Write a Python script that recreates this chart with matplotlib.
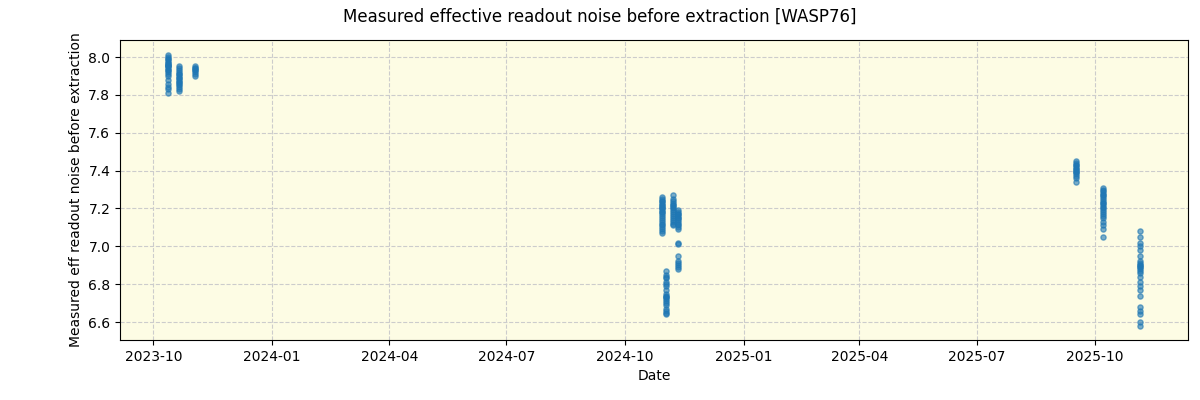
from matplotlib import pyplot as plt
import matplotlib.dates as mdates
import numpy as np
import pandas as pd

night_dates = ['2023-10-12', '2023-10-21', '2023-11-02',
               '2024-10-30', '2024-11-02', '2024-11-07', '2024-11-11',
               '2025-09-16', '2025-10-07', '2025-11-05']

noise_values = [
    [8.01, 8.00, 7.99, 7.98, 7.97, 7.96, 7.95, 7.94, 7.93, 7.92, 7.91, 7.90, 7.88, 7.86, 7.84, 7.83, 7.81,
     7.97, 7.95, 7.93, 7.99, 7.96],
    [7.95, 7.94, 7.93, 7.92, 7.91, 7.90, 7.89, 7.88, 7.87, 7.86, 7.85, 7.84, 7.83, 7.82, 7.91, 7.89, 7.87],
    [7.95, 7.94, 7.93, 7.92, 7.91, 7.90, 7.94, 7.93],
    [7.26, 7.25, 7.24, 7.23, 7.22, 7.21, 7.20, 7.19, 7.18, 7.17, 7.16, 7.15, 7.14, 7.13, 7.12, 7.11, 7.10,
     7.09, 7.08, 7.07, 7.24, 7.22, 7.20, 7.18],
    [6.87, 6.85, 6.83, 6.81, 6.79, 6.77, 6.75, 6.74, 6.73, 6.72, 6.71, 6.70, 6.69, 6.67, 6.66, 6.65, 6.64,
     6.84, 6.80, 6.73],
    [7.27, 7.25, 7.24, 7.23, 7.22, 7.21, 7.20, 7.19, 7.18, 7.17, 7.16, 7.15, 7.14, 7.13, 7.12, 7.11, 7.22],
    [7.19, 7.18, 7.17, 7.16, 7.15, 7.14, 7.13, 7.12, 7.11, 7.10, 7.09, 7.02, 7.01, 6.95, 6.92, 6.91, 6.90,
     6.89, 6.88, 7.17, 7.15],
    [7.45, 7.44, 7.43, 7.42, 7.41, 7.40, 7.39, 7.38, 7.37, 7.36, 7.34, 7.43, 7.41, 7.39],
    [7.31, 7.30, 7.29, 7.28, 7.27, 7.26, 7.25, 7.24, 7.23, 7.22, 7.21, 7.20, 7.19, 7.18, 7.17, 7.16, 7.15,
     7.13, 7.11, 7.09, 7.05, 7.27, 7.23],
    [7.08, 7.05, 7.02, 7.00, 6.98, 6.95, 6.92, 6.91, 6.90, 6.89, 6.88, 6.87, 6.86, 6.84, 6.81, 6.79, 6.77,
     6.74, 6.68, 6.66, 6.64, 6.60, 6.58, 6.90, 6.89],
]

# expand to one row per point
dates = []
values = []
for night, vals in zip(night_dates, noise_values):
    dates += [pd.Timestamp(night)] * len(vals)
    values += vals

fig, ax = plt.subplots(figsize=(12, 4), dpi=100)
fig.subplots_adjust(left=0.1, right=0.99, top=0.9, bottom=0.15)

ax.set_facecolor('#fdfce4')
ax.scatter(dates, values, s=14, color='tab:blue', alpha=0.6, zorder=3)

ax.grid(True, linestyle='--', color='#cccccc', zorder=0)
ax.set_axisbelow(True)

ax.set_xlim(pd.Timestamp('2023-09-05'), pd.Timestamp('2025-12-12'))
ax.set_ylim(6.505, 8.09)
ax.xaxis.set_major_locator(mdates.MonthLocator(bymonth=[1, 4, 7, 10]))
ax.xaxis.set_major_formatter(mdates.DateFormatter('%Y-%m'))

ax.set_xlabel('Date')
ax.set_ylabel('Measured eff readout noise before extraction')
fig.suptitle('Measured effective readout noise before extraction [WASP76]')

plt.savefig('out.png')
